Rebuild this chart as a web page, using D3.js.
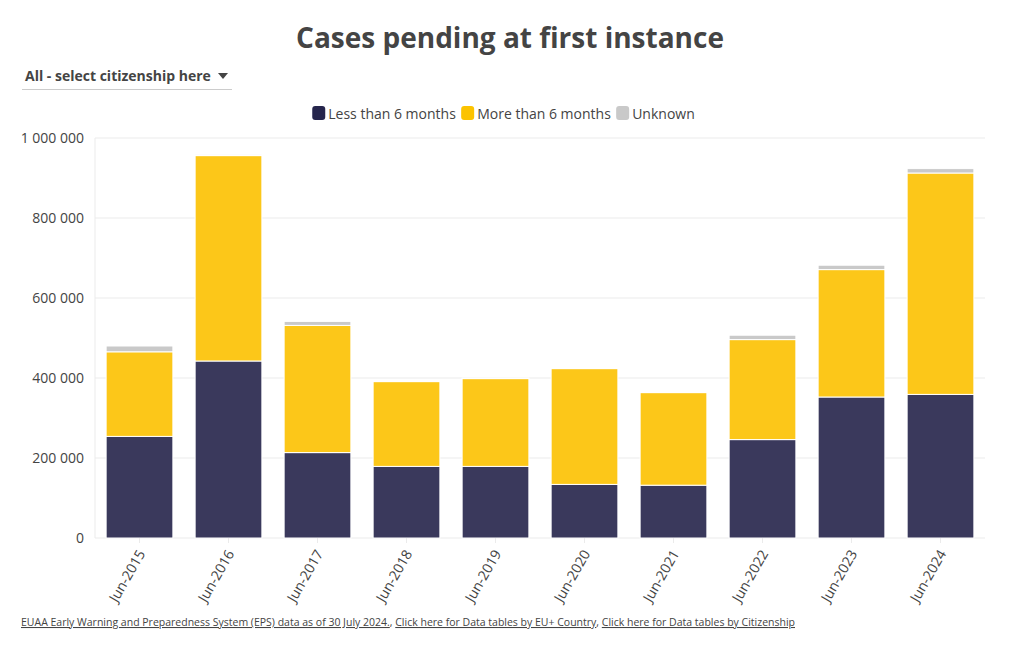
<!DOCTYPE html>
<html>
<head>
<meta charset="utf-8">
<script src="https://cdn.jsdelivr.net/npm/d3@7"></script>
<style>
  body { margin: 0; background: #fff; font-family: "Open Sans", sans-serif; }
  svg { display: block; }
</style>
</head>
<body>
<svg id="chart" width="1020" height="650"></svg>
<script>
const categories = ["Jun-2015","Jun-2016","Jun-2017","Jun-2018","Jun-2019","Jun-2020","Jun-2021","Jun-2022","Jun-2023","Jun-2024"];
const lessThan6 = [254000, 442500, 213500, 179000, 179000, 134000, 132000, 246000, 352500, 359000];
const moreThan6 = [211500, 513500, 318000, 212000, 219500, 289500, 231500, 250000, 318500, 553500];
const unknown   = [14500, 2000, 10000, 1000, 1500, 1000, 1000, 11000, 11000, 11000];
const seriesNames = ["Less than 6 months", "More than 6 months", "Unknown"];
const barColors = ["#3a395c", "#fcc719", "#c9c9c9"];
const legendColors = ["#25254c", "#fcc300", "#c9c9c9"];
const yTicks = [0, 200000, 400000, 600000, 800000, 1000000];
const titleText = "Cases pending at first instance";
const dropdownText = "All - select citizenship here";
const footerText = ["EUAA Early Warning and Preparedness System (EPS) data as of 30 July 2024.", "Click here for Data tables by EU+ Country", "Click here for Data tables by Citizenship"];

const svg = d3.select("#chart");
const margin = {left: 95, right: 35, top: 138, bottom: 112};
const W = 1020, H = 650;
const x = d3.scaleBand().domain(categories).range([margin.left, W - margin.right]).paddingInner(0.25).paddingOuter(0.125);
const y = d3.scaleLinear().domain([0, 1000000]).range([H - margin.bottom, margin.top]);
const fmt = v => d3.format(",")(v).replace(/,/g, " ");

// Gridlines
svg.append("g").selectAll("line").data(yTicks).join("line")
  .attr("x1", margin.left).attr("x2", W - margin.right)
  .attr("y1", d => y(d)).attr("y2", d => y(d))
  .attr("stroke", "#ebebeb").attr("stroke-width", 1);
svg.append("line").attr("x1", margin.left).attr("x2", margin.left)
  .attr("y1", y(1000000)).attr("y2", y(0)).attr("stroke", "#ebebeb");

// Y axis
const yAxis = d3.axisLeft(y).tickValues(yTicks).tickFormat(fmt).tickSize(0).tickPadding(11);
const yg = svg.append("g").attr("transform", `translate(${margin.left},0)`).call(yAxis);
yg.select(".domain").remove();
yg.selectAll("text").attr("font-family", "Open Sans").attr("font-size", 14).attr("fill", "#444");

// Stack
const rows = categories.map((c, i) => ({cat: c, s0: lessThan6[i], s1: moreThan6[i], s2: unknown[i]}));
const stack = d3.stack().keys(["s0", "s1", "s2"])(rows);
svg.append("g").selectAll("g").data(stack).join("g")
  .attr("fill", (d, i) => barColors[i])
  .selectAll("rect").data(d => d).join("rect")
  .attr("x", d => x(d.data.cat))
  .attr("width", x.bandwidth())
  .attr("y", d => y(d[1]))
  .attr("height", d => Math.max(0, y(d[0]) - y(d[1])))
  .attr("stroke", "#fff").attr("stroke-width", 1);

// X axis
const xAxis = d3.axisBottom(x).tickSize(0).tickPadding(8);
const xg = svg.append("g").attr("transform", `translate(0,${y(0)})`).call(xAxis);
xg.select(".domain").remove();
xg.selectAll("text")
  .attr("font-family", "Open Sans").attr("font-size", 14).attr("fill", "#444")
  .attr("text-anchor", "end")
  .attr("dy", "0.35em")
  .attr("transform", "translate(2,13) rotate(-60)")
  .attr("x", 0).attr("y", 0);
xg.selectAll(".tick").each(function() {
  d3.select(this).append("line").attr("y1", 0).attr("y2", 5).attr("stroke", "#ebebeb");
});

// Title
svg.append("text").attr("x", 510).attr("y", 48).attr("text-anchor", "middle")
  .attr("font-family", "Open Sans").attr("font-weight", 700).attr("font-size", 28)
  .attr("fill", "#444").text(titleText);

// Dropdown
svg.append("text").attr("x", 25).attr("y", 81).attr("font-family", "Open Sans")
  .attr("font-weight", 700).attr("font-size", 14).attr("fill", "#444").text(dropdownText);
svg.append("path").attr("d", "M218,73 L228,73 L223,79 Z").attr("fill", "#444");
svg.append("line").attr("x1", 22).attr("x2", 232).attr("y1", 89.5).attr("y2", 89.5)
  .attr("stroke", "#ccc").attr("stroke-width", 1);

// Legend
const lg = svg.append("g");
const legendItems = lg.selectAll("g").data(seriesNames).join("g");
legendItems.append("rect").attr("width", 13).attr("height", 14).attr("rx", 3).attr("ry", 3)
  .attr("y", 106).attr("fill", (d, i) => legendColors[i]);
legendItems.append("text").attr("x", 16).attr("y", 118.5)
  .attr("font-family", "Open Sans").attr("font-size", 14).attr("fill", "#444").text(d => d);
const widths = [];
legendItems.each(function() { widths.push(this.getBBox().width); });
const gap = 5;
const totalW = d3.sum(widths) + gap * (widths.length - 1);
let off = 503.5 - totalW / 2;
legendItems.attr("transform", (d, i) => {
  const t = `translate(${off},0)`; off += widths[i] + gap; return t;
});

// Footer
const ft = svg.append("text").attr("x", 21).attr("y", 626).attr("font-family", "Open Sans")
  .attr("font-size", 10.5).attr("fill", "#444");
footerText.forEach((t, i) => {
  ft.append("tspan").attr("text-decoration", "underline").text(t);
  if (i < footerText.length - 1) ft.append("tspan").text(", ");
});
</script>
</body>
</html>
